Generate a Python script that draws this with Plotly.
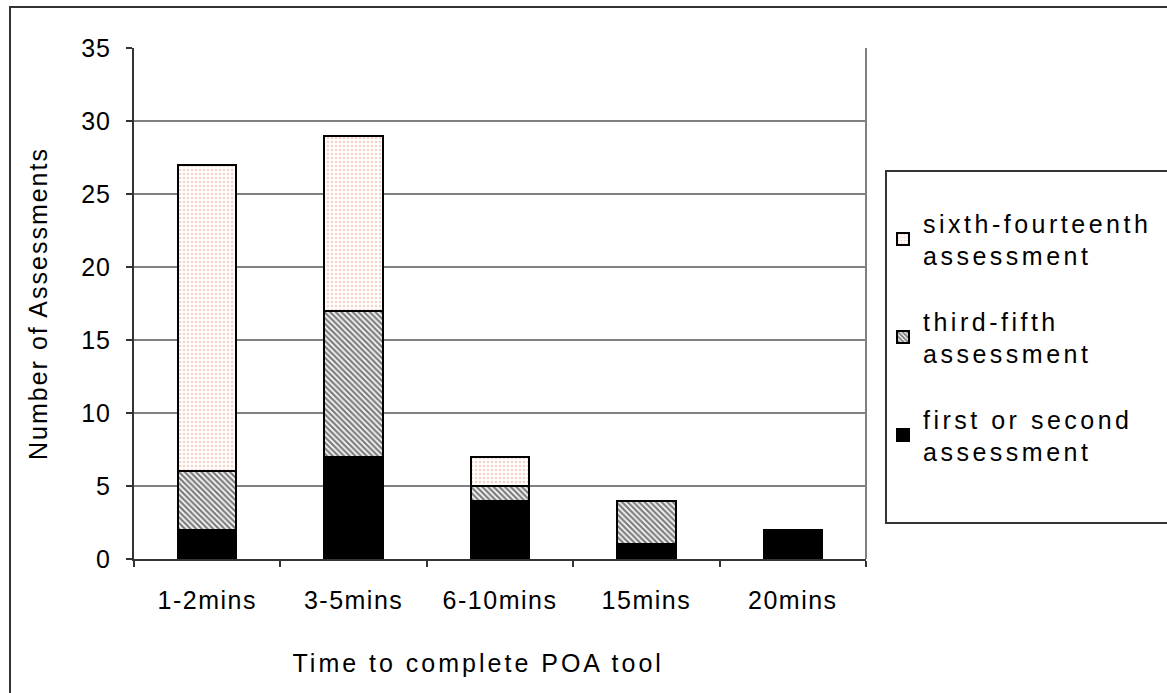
import plotly.graph_objects as go

categories = ["1-2mins", "3-5mins", "6-10mins", "15mins", "20mins"]
first_second = [2, 7, 4, 1, 2]
third_fifth = [4, 10, 1, 3, 0]
sixth_fourteenth = [21, 12, 2, 0, 0]
y_ticks = [0, 5, 10, 15, 20, 25, 30, 35]

FONT = "Liberation Sans, Arial, sans-serif"
W, H = 1167, 693
L, R, T, B = 134, 866, 48, 559


def px(xs):
    return (xs - L) / (R - L)


def py(ys):
    return (B - ys) / (B - T)


fig = go.Figure()
fig.add_trace(go.Bar(
    x=categories, y=first_second, name="first or second<br>assessment",
    legendgroup="g3", legendrank=3,
    marker=dict(color="black", line=dict(color="black", width=2)),
    width=0.4,
))
fig.add_trace(go.Bar(
    x=categories, y=third_fifth, name="third-fifth<br>assessment",
    legendgroup="g2", legendrank=2,
    marker=dict(color="white", line=dict(color="black", width=2),
                pattern=dict(shape="\\", fgcolor="black", bgcolor="white",
                             size=4, solidity=0.6)),
    width=0.4,
))
fig.add_trace(go.Bar(
    x=categories, y=sixth_fourteenth, name="sixth-fourteenth<br>assessment",
    legendgroup="g1", legendrank=1,
    marker=dict(color="white", line=dict(color="black", width=2),
                pattern=dict(shape=".", fgcolor="#e9a88e", bgcolor="white",
                             size=4, solidity=0.35)),
    width=0.4,
))

shapes = [
    dict(type="line", xref="paper", yref="paper", x0=1, x1=1, y0=0, y1=1,
         line=dict(color="#808080", width=2)),
    dict(type="rect", xref="paper", yref="paper",
         x0=px(886), x1=px(1180), y0=py(523), y1=py(171),
         line=dict(color="#333333", width=2), fillcolor="rgba(0,0,0,0)"),
    dict(type="rect", xref="paper", yref="paper",
         x0=px(10), x1=px(1180), y0=py(710), y1=py(7),
         line=dict(color="#333333", width=2), fillcolor="rgba(0,0,0,0)"),
]

annotations = [
    dict(text="Time to complete POA tool", xref="paper", yref="paper",
         x=px(478), y=py(663), xanchor="center", yanchor="middle",
         showarrow=False, font=dict(family=FONT, size=25, color="black")),
]

fig.update_layout(
    width=W, height=H,
    margin=dict(l=L, r=W - R, t=T, b=H - B, pad=0),
    barmode="stack",
    paper_bgcolor="white", plot_bgcolor="white",
    font=dict(family=FONT, size=25, color="black"),
    showlegend=True,
    legend=dict(
        traceorder="grouped", tracegroupgap=30,
        x=px(883), xanchor="left", y=py(200), yanchor="top",
        bgcolor="rgba(0,0,0,0)", borderwidth=0,
        font=dict(family=FONT, size=25, color="black"),
        itemclick=False, itemdoubleclick=False,
    ),
    xaxis=dict(
        type="category", tickson="boundaries",
        showline=True, linecolor="#333333", linewidth=2,
        ticks="outside", ticklen=6, tickcolor="#333333", tickwidth=1.5,
        showgrid=False, ticklabelstandoff=18,
    ),
    yaxis=dict(
        range=[0, 35], tickvals=y_ticks,
        showline=True, linecolor="#333333", linewidth=2,
        ticks="outside", ticklen=6, tickcolor="#333333", tickwidth=1.5,
        showgrid=True, gridcolor="#808080", gridwidth=2,
        zeroline=False, ticklabelstandoff=10,
        title=dict(text="Number of Assessments", standoff=28,
                   font=dict(family=FONT, size=25)),
    ),
    shapes=shapes,
    annotations=annotations,
)

post = """
document.body.style.margin = '0';
document.body.style.padding = '0';
var gd = document.getElementById('{plot_id}');
function sp(sel, v){ gd.querySelectorAll(sel).forEach(function(e){ e.style.letterSpacing = v; }); }
sp('.xtick text', '1.5px');
sp('.ytick text', '1px');
sp('text.annotation-text', '3px');
sp('text.ytitle', '2px');
sp('text.legendtext', '3.5px');
gd.querySelectorAll('.legend [clip-path]').forEach(function(e){ e.removeAttribute('clip-path'); });
"""

fig.write_html("out.html", post_script=post, config={"displayModeBar": False})
